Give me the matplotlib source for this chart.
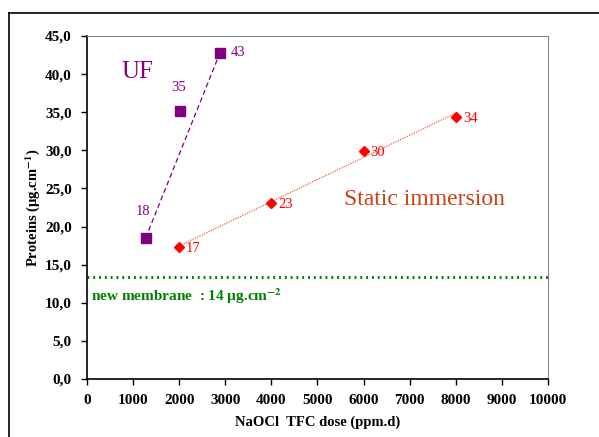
import numpy as np
import matplotlib.pyplot as plt
from matplotlib.lines import Line2D

plt.rcParams['font.family'] = ['Liberation Serif', 'DejaVu Serif']
plt.rcParams['mathtext.fontset'] = 'stix'

# UF series
uf_dose = [1273, 2024, 2885]
uf_prot = [18.5, 35.2, 42.8]
uf_labels = ['18', '35', '43']

# static immersion series
si_dose = [2000, 4000, 6000, 8000]
si_prot = [17.3, 23.1, 29.9, 34.4]
si_labels = ['17', '23', '30', '34']

new_membrane = 13.4

purple = '#800080'
red = '#FF0000'

fig = plt.figure(figsize=(5.99, 4.37), dpi=100)
ax = fig.add_axes([0.1452, 0.1327, 0.7697, 0.7849])

# outer frame (left and top only)
fig.add_artist(Line2D([0.015, 0.015], [0, 0.970], color='black', lw=1.2))
fig.add_artist(Line2D([0.015, 1.0], [0.970, 0.970], color='black', lw=1.2))

# trend lines
ax.plot([uf_dose[0], uf_dose[-1]], [uf_prot[0], uf_prot[-1]], color=purple,
        lw=0.9, ls=(0, (4, 2.5)))
p2 = np.polyfit(si_dose, si_prot, 1)
xx2 = np.array([min(si_dose), max(si_dose)])
ax.plot(xx2, np.polyval(p2, xx2), color='#E8603A', lw=0.9, ls=(0, (1, 1)))

ax.plot(uf_dose, uf_prot, 's', color=purple, ms=6.5, ls='none')
ax.plot(si_dose, si_prot, 'D', color=red, ms=5.5, ls='none')

ax.axhline(new_membrane, color='#008000', lw=2.2, ls=(0, (0.6, 1.3)))

# point labels
uf_off = [(-2, 19), (-1, 17), (8, 0)]
for x, y, t, o in zip(uf_dose, uf_prot, uf_labels, uf_off):
    ax.annotate(t, (x, y), xytext=o, textcoords='offset points',
                color=purple, fontsize=10.5, va='center', ha='left' if o[0] > 0 else 'center')
for x, y, t in zip(si_dose, si_prot, si_labels):
    ax.annotate(t, (x, y), xytext=(5, -1), textcoords='offset points',
                color=red, fontsize=10.5, va='center', ha='left')

ax.text(740, 40.3, 'UF', color=purple, fontsize=18, va='center')
ax.text(7310, 23.5, 'Static immersion', color='#D04010', fontsize=17, va='center', ha='center')
ax.text(80, 10.8, 'new membrane  : 14 µg.cm$^{\\mathbf{-2}}$', color='#008000',
        fontsize=11, fontweight='bold', va='center')

ax.set_xlim(0, 10000)
ax.set_ylim(0, 45)
ax.set_xticks(np.arange(0, 10001, 1000))
ax.set_yticks(np.arange(0, 45.1, 5))
ax.set_yticklabels([f'{v:.1f}'.replace('.', ',') for v in np.arange(0, 45.1, 5)])
for lab in ax.get_xticklabels() + ax.get_yticklabels():
    lab.set_fontweight('bold')
    lab.set_fontsize(11)
ax.tick_params(direction='out', length=4, width=1, pad=7)

ax.spines['top'].set_color('#888888')
ax.spines['right'].set_color('#888888')
ax.spines['left'].set_linewidth(1.2)
ax.spines['bottom'].set_linewidth(1.2)

ax.set_xlabel('NaOCl  TFC dose (ppm.d)', fontsize=10.5, fontweight='bold', labelpad=6)
ax.set_ylabel('Proteins (µg.cm$^{\\mathbf{-1}}$)', fontsize=10.5, fontweight='bold', labelpad=2)

fig.savefig('out.png', dpi=100)
